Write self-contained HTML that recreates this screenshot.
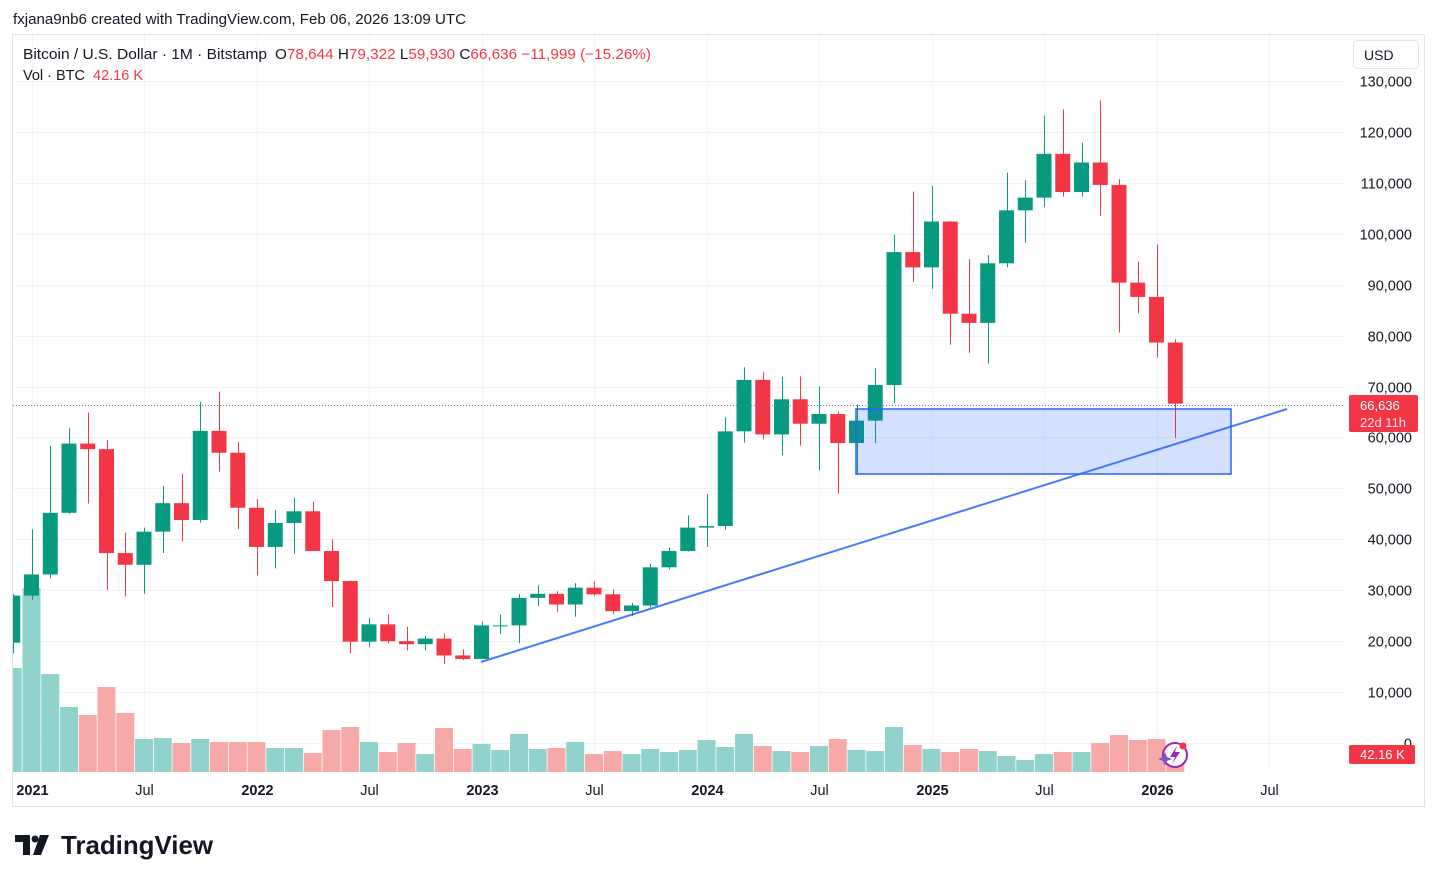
<!DOCTYPE html>
<html><head><meta charset="utf-8"><style>
body{margin:0;background:#fff;width:1438px;height:882px;overflow:hidden;font-family:"Liberation Sans",sans-serif}
svg text{font-family:"Liberation Sans",sans-serif}
</style></head><body>
<svg id="chart" width="1438" height="882" xmlns="http://www.w3.org/2000/svg">
<text x="13" y="24" font-size="14.5" fill="#131722" textLength="453" lengthAdjust="spacingAndGlyphs">fxjana9nb6 created with TradingView.com, Feb 06, 2026 13:09 UTC</text>
<rect x="12.5" y="34.5" width="1412" height="772" fill="none" stroke="#e0e3eb"/>
<g id="grid"></g>
<g id="vol"></g>
<g id="candles"></g>
<line x1="13" y1="405.5" x2="1345" y2="405.5" stroke="#787b86" stroke-dasharray="1 2"/>
<rect x="856" y="409" width="375" height="65" fill="rgba(41,98,255,0.2)" stroke="#2962ff" stroke-width="1.5"/>
<line x1="481" y1="662" x2="1287" y2="409" stroke="#2962ff" stroke-width="2" stroke-opacity="0.85"/>
<g id="yaxis"></g>
<g id="xaxis"></g>
<rect x="1353.5" y="40.5" width="65" height="28" rx="4" fill="#fff" stroke="#e0e3eb"/>
<text x="1364" y="60" font-size="14" fill="#131722">USD</text>
<rect x="1349" y="395" width="69" height="37" rx="2" fill="#f23645"/>
<text x="1360" y="410" font-size="13" fill="#fff">66,636</text>
<text x="1360" y="427" font-size="13" fill="#fff" fill-opacity="0.85">22d 11h</text>
<rect x="1349" y="745" width="66" height="19" rx="2" fill="#f23645"/>
<text x="1360" y="759" font-size="13" fill="#fff">42.16 K</text>
<g>
<circle cx="1175" cy="755" r="12" fill="#fff" stroke="#9c27b0" stroke-width="2"/>
<path d="M1177 746 L1170 757 L1175 757 L1172 764 L1180 752 L1175 752 Z" fill="#9c27b0"/>
<circle cx="1183" cy="746" r="3.5" fill="#f23645"/>
<path d="M1163 757 l2 -5 l2 5 l5 2 l-5 2 l-2 5 l-2 -5 l-5 -2 z" fill="#7e57c2"/>
</g>
<g font-size="14.5">
<text x="23" y="59" fill="#131722" textLength="244" lengthAdjust="spacingAndGlyphs">Bitcoin / U.S. Dollar · 1M · Bitstamp</text>
<text x="275" y="59" fill="#131722" textLength="376" lengthAdjust="spacingAndGlyphs">O<tspan fill="#f23645">78,644</tspan> H<tspan fill="#f23645">79,322</tspan> L<tspan fill="#f23645">59,930</tspan> C<tspan fill="#f23645">66,636</tspan> <tspan fill="#f23645">−11,999 (−15.26%)</tspan></text>
<text x="23" y="80" fill="#131722" textLength="120" lengthAdjust="spacingAndGlyphs">Vol · BTC <tspan fill="#f23645" dx="4">42.16 K</tspan></text>
</g>
<g>
<path d="M15 835 h15 v20 h-7 v-13 h-8 z" fill="#131722"/>
<circle cx="35" cy="839" r="3.5" fill="#131722"/>
<path d="M40 835 h9 l-8 20 h-8 z" fill="#131722"/>
<text x="61" y="854" font-size="26" font-weight="bold" fill="#131722" textLength="152" lengthAdjust="spacingAndGlyphs">TradingView</text>
</g>
</svg>
<script>
const months=["2020-12","2021-01","2021-02","2021-03","2021-04","2021-05","2021-06","2021-07","2021-08","2021-09","2021-10","2021-11","2021-12","2022-01","2022-02","2022-03","2022-04","2022-05","2022-06","2022-07","2022-08","2022-09","2022-10","2022-11","2022-12","2023-01","2023-02","2023-03","2023-04","2023-05","2023-06","2023-07","2023-08","2023-09","2023-10","2023-11","2023-12","2024-01","2024-02","2024-03","2024-04","2024-05","2024-06","2024-07","2024-08","2024-09","2024-10","2024-11","2024-12","2025-01","2025-02","2025-03","2025-04","2025-05","2025-06","2025-07","2025-08","2025-09","2025-10","2025-11","2025-12","2026-01","2026-02"];
const opens=[19700,28950,33100,45200,58800,57700,37300,35000,41500,47100,43800,61300,57000,46200,38500,43200,45500,37700,31800,19900,23300,20000,19400,20500,17200,16500,23100,23100,28500,29300,27200,30500,29200,25900,27000,34500,37700,42300,42600,61200,71300,60600,67500,62700,64600,58900,63300,70300,96400,93400,102400,84300,82500,94200,104600,107100,115700,108200,114000,109600,90400,87600,78644];
const highs=[29300,41950,58350,61800,64900,59500,41300,42300,50500,52900,67000,69000,59100,47900,45800,48200,47400,40000,31900,24600,25200,22800,21000,21500,18400,23900,25200,29200,31000,29800,31400,31800,30200,27500,35200,38400,44700,48900,64000,73800,72800,71900,72000,70000,65100,66500,73600,99800,108300,109400,102500,95000,95800,112000,110500,123200,124400,117900,126200,110700,94500,97900,79322];
const lows=[17600,28150,32300,45000,47000,30000,28800,29300,37300,39600,43300,53300,42000,32900,34300,37200,37700,26700,17600,18800,19600,18200,18200,15500,16300,16500,21400,19600,26900,25800,24800,28900,25300,24900,26600,34100,37600,38500,41900,59000,59600,56500,58400,53500,49000,52600,58900,66800,90500,89200,78200,76600,74500,93400,98200,105200,107300,107300,103500,80600,84400,75700,59930];
const closes=[28950,33100,45200,58800,57700,37300,35000,41500,47100,43800,61300,57000,46200,38500,43200,45500,37700,31800,19900,23300,20000,19400,20500,17200,16500,23100,23100,28500,29300,27200,30500,29200,25900,27000,34500,37700,42300,42600,61200,71300,60600,67500,62700,64600,58900,63300,70300,96400,93400,102400,84300,82500,94200,104600,107100,115700,108200,114000,109600,90400,87600,78644,66636];
const volumes=[416,736,392,260,228,340,236,132,136,116,132,120,120,120,96,96,76,168,180,120,80,116,72,176,92,112,88,152,92,96,120,72,84,72,92,80,88,128,100,152,104,84,80,104,132,88,84,180,108,92,80,92,84,64,48,72,80,80,116,148,128,132,42.16];
const yTicks=[0,10000,20000,30000,40000,50000,60000,70000,80000,90000,100000,110000,120000,130000];
const xTickLabels=["2021","Jul","2022","Jul","2023","Jul","2024","Jul","2025","Jul","2026","Jul"];
const xTickMonths=["2021-01","2021-07","2022-01","2022-07","2023-01","2023-07","2024-01","2024-07","2025-01","2025-07","2026-01","2026-07"];

const NS="http://www.w3.org/2000/svg";
const PL=13,PR=1345,VOLBASE=772;
function mi(m){const [y,mo]=m.split("-").map(Number);return (y-2021)*12+(mo-1);}
function xs(m){return 31.5+mi(m)*18.75;}
function ys(v){return 743-v*662/130000;}
function vs(v){return v*0.25;}
function mk(tag,attrs,parent){const e=document.createElementNS(NS,tag);for(const k in attrs)e.setAttribute(k,attrs[k]);parent.appendChild(e);return e;}
const grid=document.getElementById("grid"),vol=document.getElementById("vol"),cg=document.getElementById("candles"),ya=document.getElementById("yaxis"),xa=document.getElementById("xaxis");
yTicks.forEach(t=>{const y=Math.round(ys(t))+0.5;
 const l=mk("line",{x1:PL,x2:PR,y1:y,y2:y,stroke:"#f0f3fa"},grid);
 
 
 const tx=mk("text",{x:1412,y:y+5,"font-size":14.5,fill:"#131722","text-anchor":"end"},ya);
 tx.textContent=t.toLocaleString("en-US");
 
 
});
xTickMonths.forEach((m,i)=>{const x=Math.round(xs(m))+0.5;
 const l=mk("line",{x1:x,x2:x,y1:35,y2:772,stroke:"#f0f3fa"},grid);
 
 
 const bold=xTickLabels[i]!=="Jul";
 const tx=mk("text",{x:x,y:795,"font-size":14.5,fill:"#131722","text-anchor":"middle","font-weight":bold?"bold":"normal"},xa);
 tx.textContent=xTickLabels[i];
 
 
});
const clip=mk("clipPath",{id:"pc"},document.getElementById("chart"));
mk("rect",{x:PL,y:35,width:PR-PL,height:737},clip);
vol.setAttribute("clip-path","url(#pc)");cg.setAttribute("clip-path","url(#pc)");
months.forEach((m,i)=>{
 const x=xs(m),up=closes[i]>=opens[i];
 const h=vs(volumes[i]);
 const vb=mk("rect",{x:x-9,y:VOLBASE-h,width:18,height:h,fill:up?"#92d2cc":"#f7a9a7"},vol);
 
 
 const col=up?"#089981":"#f23645";
 const w=mk("line",{x1:Math.round(x)+0.5,x2:Math.round(x)+0.5,y1:ys(highs[i]),y2:ys(lows[i]),stroke:col},cg);
 
 
 const t=ys(Math.max(opens[i],closes[i])),b=ys(Math.min(opens[i],closes[i]));
 const r=mk("rect",{x:x-7.5,y:t,width:15,height:Math.max(1,b-t),fill:col},cg);
 
 
});
</script>
</body></html>
